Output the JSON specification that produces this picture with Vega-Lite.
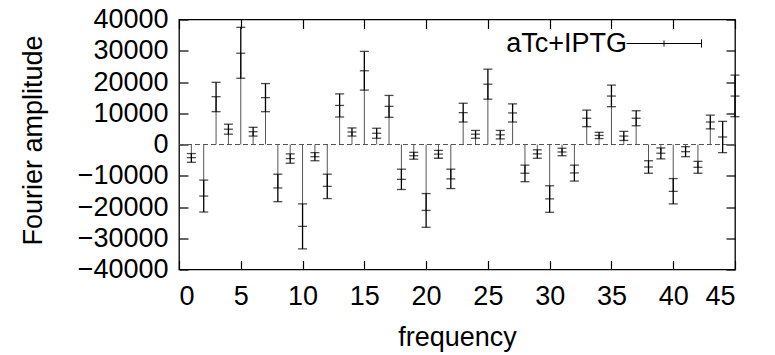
{
  "$schema": "https://vega.github.io/schema/vega-lite/v6.json",
  "width": 556,
  "height": 250,
  "autosize": {"type": "none"},
  "padding": {"left": 179, "top": 19.5, "right": 40, "bottom": 85.5},
  "background": "white",
  "config": {
    "view": {"stroke": "#000", "strokeWidth": 1.3},
    "font": "Liberation Sans",
    "axis": {
      "labelFont": "Liberation Sans",
      "titleFont": "Liberation Sans",
      "labelFontSize": 27,
      "titleFontSize": 27,
      "labelColor": "#000",
      "titleColor": "#000",
      "titleFontWeight": "normal",
      "tickColor": "#000",
      "tickWidth": 1.2,
      "tickSize": -9,
      "grid": false,
      "domain": false
    }
  },
  "data": {
    "values": [
      {"f": 1, "a": -4200, "lo": -5700, "hi": -2900},
      {"f": 2, "a": -16500, "lo": -21600, "hi": -11400},
      {"f": 3, "a": 15300, "lo": 10500, "hi": 19900},
      {"f": 4, "a": 4900, "lo": 3300, "hi": 6500},
      {"f": 5, "a": 29200, "lo": 21200, "hi": 37500},
      {"f": 6, "a": 4100, "lo": 2700, "hi": 5500},
      {"f": 7, "a": 15000, "lo": 10500, "hi": 19500},
      {"f": 8, "a": -13900, "lo": -18300, "hi": -9500},
      {"f": 9, "a": -4500, "lo": -6000, "hi": -3000},
      {"f": 10, "a": -26200, "lo": -33400, "hi": -19000},
      {"f": 11, "a": -3900, "lo": -5200, "hi": -2600},
      {"f": 12, "a": -13400, "lo": -17300, "hi": -9500},
      {"f": 13, "a": 12500, "lo": 8800, "hi": 16200},
      {"f": 14, "a": 4000, "lo": 2700, "hi": 5300},
      {"f": 15, "a": 23600, "lo": 17400, "hi": 29800},
      {"f": 16, "a": 3600, "lo": 2000, "hi": 5200},
      {"f": 17, "a": 12200, "lo": 8700, "hi": 15700},
      {"f": 18, "a": -11150, "lo": -14400, "hi": -7900},
      {"f": 19, "a": -3600, "lo": -4700, "hi": -2500},
      {"f": 20, "a": -21100, "lo": -26500, "hi": -15700},
      {"f": 21, "a": -3100, "lo": -4400, "hi": -1900},
      {"f": 22, "a": -11000, "lo": -14100, "hi": -7900},
      {"f": 23, "a": 10200, "lo": 7200, "hi": 13200},
      {"f": 24, "a": 3300, "lo": 2000, "hi": 4500},
      {"f": 25, "a": 19300, "lo": 14500, "hi": 24100},
      {"f": 26, "a": 3100, "lo": 1800, "hi": 4500},
      {"f": 27, "a": 10100, "lo": 7200, "hi": 13000},
      {"f": 28, "a": -9200, "lo": -11900, "hi": -6600},
      {"f": 29, "a": -3000, "lo": -4400, "hi": -1700},
      {"f": 30, "a": -17400, "lo": -21700, "hi": -13200},
      {"f": 31, "a": -2400, "lo": -3600, "hi": -1200},
      {"f": 32, "a": -9100, "lo": -11700, "hi": -6600},
      {"f": 33, "a": 8400, "lo": 5700, "hi": 11000},
      {"f": 34, "a": 2900, "lo": 1900, "hi": 3900},
      {"f": 35, "a": 15500, "lo": 12100, "hi": 19000},
      {"f": 36, "a": 2700, "lo": 1300, "hi": 4200},
      {"f": 37, "a": 8400, "lo": 6000, "hi": 10800},
      {"f": 38, "a": -7200, "lo": -9200, "hi": -5200},
      {"f": 39, "a": -2800, "lo": -4600, "hi": -1100},
      {"f": 40, "a": -15000, "lo": -19000, "hi": -10900},
      {"f": 41, "a": -2300, "lo": -3900, "hi": -700},
      {"f": 42, "a": -7300, "lo": -9200, "hi": -5400},
      {"f": 43, "a": 7200, "lo": 5000, "hi": 9400},
      {"f": 44, "a": 2400, "lo": -2600, "hi": 7400},
      {"f": 45, "a": 15500, "lo": 8900, "hi": 22200}
    ]
  },
  "layer": [
    {
      "data": {"values": [{}]},
      "mark": {"type": "rule", "strokeDash": [5, 3], "color": "#555", "strokeWidth": 1},
      "encoding": {
        "x": {"datum": 0, "type": "quantitative", "scale": {"domain": [0, 45], "nice": false, "zero": false},
          "axis": {"orient": "top", "labels": false, "title": null, "values": [0, 5, 10, 15, 20, 25, 30, 35, 40, 45]}},
        "x2": {"datum": 45},
        "y": {"datum": 0, "type": "quantitative", "scale": {"domain": [-40000, 40000], "nice": false},
          "axis": {"orient": "right", "labels": false, "title": null, "values": [-40000, -30000, -20000, -10000, 0, 10000, 20000, 30000, 40000]}}
      }
    },
    {
      "mark": {"type": "rule", "color": "#555", "strokeWidth": 1},
      "encoding": {
        "x": {"field": "f", "type": "quantitative",
          "axis": {"orient": "bottom", "title": "frequency", "values": [0, 5, 10, 15, 20, 25, 30, 35, 40, 45],
            "labelPadding": 23, "labelDx": 4.5, "titleBaseline": "alphabetic", "titleY": 76, "titleAnchor": "middle"}},
        "y": {"field": "a", "type": "quantitative",
          "axis": {"orient": "left", "title": "Fourier amplitude", "format": "d",
            "values": [-40000, -30000, -20000, -10000, 0, 10000, 20000, 30000, 40000],
            "labelPadding": 20, "titleAngle": -90, "titleBaseline": "alphabetic", "titleAlign": "center", "titleX": -138, "titleY": 120.5}},
        "y2": {"datum": 0}
      }
    },
    {
      "mark": {"type": "rule", "strokeWidth": 1.3},
      "encoding": {
        "x": {"field": "f", "type": "quantitative", "axis": null},
        "y": {"field": "lo", "type": "quantitative", "axis": null},
        "y2": {"field": "hi"},
        "color": {"datum": "aTc+IPTG", "type": "nominal", "scale": {"range": ["#000"]},
          "legend": {"orient": "none", "legendX": 447, "legendY": -14, "title": null, "padding": 0,
            "symbolType": "M-1,0H1M1,-0.11V0.11M0,-0.08V0.08", "symbolSize": 5625, "symbolStrokeWidth": 1,
            "symbolFillColor": "transparent", "symbolStrokeColor": "#000",
            "labelFont": "Liberation Sans", "labelFontSize": 27, "labelColor": "#000",
            "labelAlign": "right", "labelOffset": -75, "labelBaseline": "middle", "labelLimit": 0}}
      }
    },
    {
      "mark": {"type": "tick", "orient": "horizontal", "size": 9, "thickness": 1.3, "color": "#000"},
      "encoding": {"x": {"field": "f", "type": "quantitative", "axis": null}, "y": {"field": "lo", "type": "quantitative", "axis": null}}
    },
    {
      "mark": {"type": "tick", "orient": "horizontal", "size": 9, "thickness": 1.3, "color": "#000"},
      "encoding": {"x": {"field": "f", "type": "quantitative", "axis": null}, "y": {"field": "hi", "type": "quantitative", "axis": null}}
    },
    {
      "mark": {"type": "tick", "orient": "horizontal", "size": 9, "thickness": 1.3, "color": "#000"},
      "encoding": {"x": {"field": "f", "type": "quantitative", "axis": null}, "y": {"field": "a", "type": "quantitative", "axis": null}}
    }
  ],
  "resolve": {"axis": {"x": "independent", "y": "independent"}}
}
